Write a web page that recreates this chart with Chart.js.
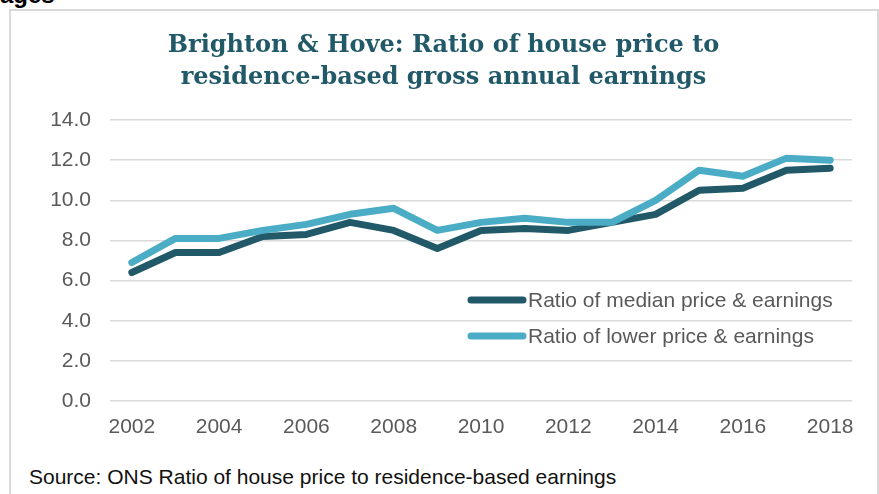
<!DOCTYPE html>
<html>
<head>
<meta charset="utf-8">
<script src="https://cdn.jsdelivr.net/npm/chart.js@4"></script>
<style>
  html, body { margin: 0; padding: 0; background: #fff; width: 879px; height: 494px; overflow: hidden; }
  #frame { position: absolute; left: 9px; top: 9px; width: 866px; height: 500px; border: 2px solid #d9d9d9; border-bottom: none; }
  #cut { position: absolute; left: 0; top: -17px; font: bold 24px/24px "Liberation Sans", Arial, sans-serif; color: #000; }
  #wrap { position: absolute; left: 10px; top: 10px; width: 867px; height: 446px; }
  #source { position: absolute; left: 29px; top: 466px; font: 21px/21px "Liberation Sans", Arial, sans-serif; color: #111; white-space: nowrap; }
</style>
</head>
<body>
<div id="cut">ages</div>
<div id="frame"></div>
<div id="wrap"><canvas id="ratioChart" width="867" height="446"></canvas></div>
<div id="source">Source: ONS Ratio of house price to residence-based earnings</div>
<script>
// --- Data ---
const years = ['2002', '2003', '2004', '2005', '2006', '2007', '2008', '2009', '2010',
               '2011', '2012', '2013', '2014', '2015', '2016', '2017', '2018'];
const medianRatio = [6.4, 7.4, 7.4, 8.2, 8.3, 8.9, 8.5, 7.6, 8.5, 8.6, 8.5, 8.9, 9.3, 10.5, 10.6, 11.5, 11.6];
const lowerRatio  = [6.9, 8.1, 8.1, 8.5, 8.8, 9.3, 9.6, 8.5, 8.9, 9.1, 8.9, 8.9, 10.0, 11.5, 11.2, 12.1, 12.0];
const seriesNames = ['Ratio of median price & earnings', 'Ratio of lower price & earnings'];
const titleLines = ['Brighton & Hove: Ratio of house price to', 'residence-based gross annual earnings'];

const colors = {
    dark: '#215968',
    light: '#4bacc6',
    grid: '#d9d9d9',
    text: '#595959'
};
const sansFont = "'Liberation Sans', Arial, sans-serif";

// legend drawn inside the plot area, like the original
const insideLegend = {
    id: 'insideLegend',
    afterDraw(chart, args, opts) {
        const ctx = chart.ctx;
        ctx.save();
        ctx.font = opts.fontSize + 'px ' + sansFont;
        ctx.textBaseline = 'middle';
        ctx.lineCap = 'round';
        chart.data.datasets.forEach((ds, i) => {
            const y = opts.y + i * opts.rowGap;
            ctx.strokeStyle = ds.borderColor;
            ctx.lineWidth = ds.borderWidth;
            ctx.beginPath();
            ctx.moveTo(opts.x + 3, y);
            ctx.lineTo(opts.x + opts.swatch - 3, y);
            ctx.stroke();
            ctx.fillStyle = colors.text;
            ctx.fillText(ds.label, opts.x + opts.swatch + 2, y + 1);
        });
        ctx.restore();
    }
};

const ctx = document.getElementById('ratioChart').getContext('2d');
new Chart(ctx, {
    type: 'line',
    data: {
        labels: years,
        datasets: [
            { label: seriesNames[0], data: medianRatio, borderColor: colors.dark, borderWidth: 7, pointRadius: 0, tension: 0, order: 2, borderJoinStyle: 'round', borderCapStyle: 'round' },
            { label: seriesNames[1], data: lowerRatio, borderColor: colors.light, borderWidth: 7, pointRadius: 0, tension: 0, order: 1, borderJoinStyle: 'round', borderCapStyle: 'round' }
        ]
    },
    options: {
        responsive: false,
        animation: false,
        layout: { padding: { left: 25, right: 25, top: 0, bottom: 0 } },
        plugins: {
            legend: { display: false },
            tooltip: { enabled: false },
            title: {
                display: true,
                text: titleLines,
                color: '#215968',
                font: { family: "'DejaVu Serif', Georgia, serif", size: 24, weight: 'bold', lineHeight: 32 / 24 },
                padding: { top: 20, bottom: 26 }
            },
            insideLegend: { x: 458, y: 290, rowGap: 36, swatch: 58, fontSize: 21 }
        },
        scales: {
            x: {
                offset: true,
                grid: { display: false, drawTicks: false, offset: true },
                border: { display: false },
                ticks: {
                    color: colors.text,
                    font: { family: sansFont, size: 21 },
                    padding: 14,
                    autoSkip: false,
                    maxRotation: 0,
                    callback: function (val, idx) { return idx % 2 === 0 ? this.getLabelForValue(val) : ''; }
                },
                afterFit: (scale) => { scale.height = 55; }
            },
            y: {
                min: 0,
                max: 14,
                grid: { color: colors.grid, lineWidth: 1.5, drawTicks: false },
                border: { display: false },
                ticks: {
                    stepSize: 2,
                    color: colors.text,
                    font: { family: sansFont, size: 21 },
                    padding: 19,
                    callback: (v) => v.toFixed(1)
                },
                afterFit: (scale) => { scale.width = 75; }
            }
        }
    },
    plugins: [insideLegend]
});
</script>
</body>
</html>
